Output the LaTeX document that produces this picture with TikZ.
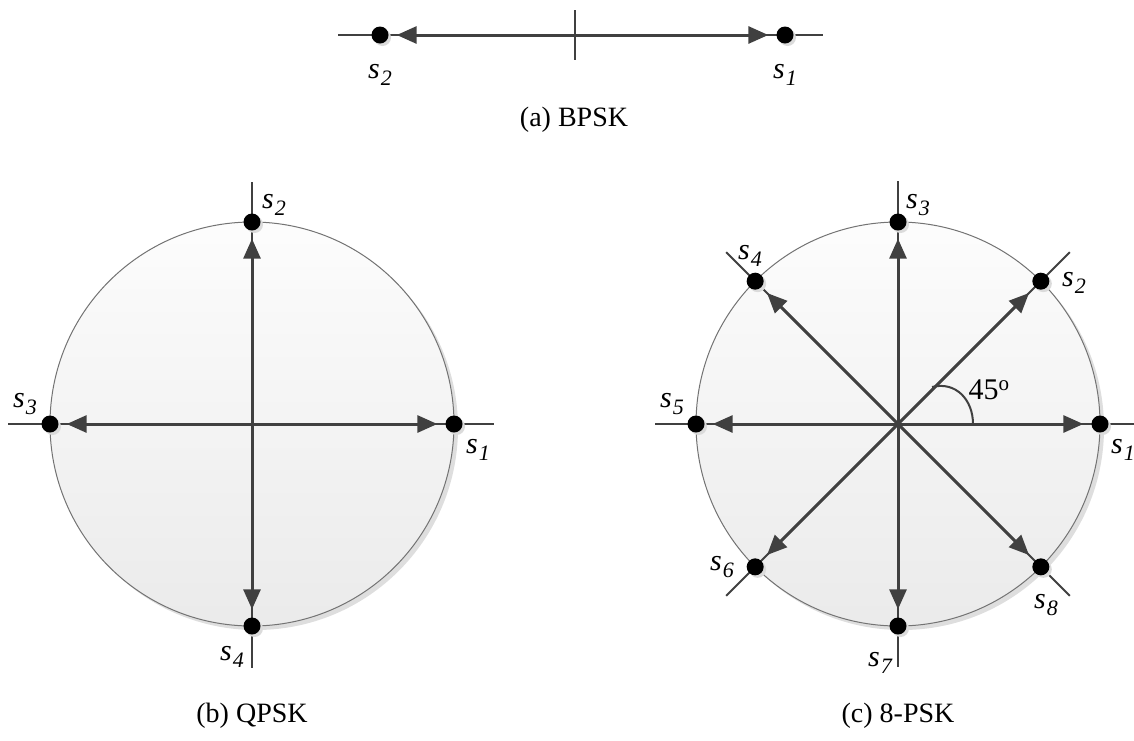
\documentclass[tikz,border=0pt]{standalone}
\usepackage{fontspec}
\setmainfont{Liberation Serif}
\usetikzlibrary{arrows.meta,shadows,calc}
\definecolor{arr}{HTML}{404040}
\tikzset{
  ax/.style={draw=arr, line width=2},
  vec/.style={draw=arr, line width=3, -{Triangle[length=20,width=17]}, shorten >=8},
  dot/.style={circle, fill=black, inner sep=0, minimum size=17, drop shadow={shadow xshift=2.5, shadow yshift=2.5, fill=black!14, opacity=1}},
  disk/.style={draw=black!55, line width=1, top color=black!1, bottom color=black!8, drop shadow={shadow xshift=4, shadow yshift=4, fill=black!13, opacity=1}},
  lab/.style={font=\fontsize{30}{34}\selectfont\itshape, inner sep=0},
  captxt/.style={font=\fontsize{28}{32}\selectfont, inner sep=0},
}
\newcommand{\slab}[1]{s\kern1pt\raisebox{-7pt}{\fontsize{22}{24}\selectfont\itshape #1}}
\begin{document}
\begin{tikzpicture}[x=1pt,y=-1pt]
\useasboundingbox (0,0) rectangle (1134,740);
% ---- BPSK
\coordinate (ao) at (575,35);
\draw[ax] (338,35) -- (823,35);
\draw[ax] (575,10) -- (575,60);
\node[dot] (a1) at (785,35) {};
\node[dot] (a2) at (380,35) {};
\draw[vec] (ao) -- (a1);
\draw[vec] (ao) -- (a2);
\node[lab] at (380,75) {\slab{2}};
\node[lab] at (785,75) {\slab{1}};
\node[captxt] at (574,120) {(a) BPSK};
% ---- QPSK
\coordinate (bo) at (252,424);
\path[disk] (bo) circle (202);
\draw[ax] (252,182) -- (252,668);
\draw[ax] (8,424) -- (494,424);
\node[dot] (b1) at (454,424) {};
\node[dot] (b2) at (252,222) {};
\node[dot] (b3) at (50,424) {};
\node[dot] (b4) at (252,626) {};
\foreach \i in {1,...,4} \draw[vec] (bo) -- (b\i);
\node[lab] at (274,205) {\slab{2}};
\node[lab] at (25,404) {\slab{3}};
\node[lab] at (478,450) {\slab{1}};
\node[lab] at (232,657) {\slab{4}};
\node[captxt] at (252,716) {(b) QPSK};
% ---- 8-PSK
\coordinate (co) at (898,424);
\path[disk] (co) circle (202);
\foreach \a in {0,45,90,135} \draw[ax] ($(co)+(-\a:243)$) -- ($(co)+(180-\a:243)$);
\foreach \i/\a in {1/0,2/45,3/90,4/135,5/180,6/225,7/270,8/315}
  \node[dot] (c\i) at ($(co)+(-\a:202)$) {};
\foreach \i in {1,...,8} \draw[vec] (co) -- (c\i);
\coordinate (arcA) at (932,387);
\coordinate (arcB) at (973,424);
\draw[ax] (arcA) .. controls (956,381) and (973,400) .. (arcB);
\node[captxt, font=\fontsize{30}{34}\selectfont] (ang) at (989,390) {45\textsuperscript{o}};
\node[lab] at (918,205) {\slab{3}};
\node[lab] at (1074,283) {\slab{2}};
\node[lab] at (750,256) {\slab{4}};
\node[lab] at (672,404) {\slab{5}};
\node[lab] at (1123,450) {\slab{1}};
\node[lab] at (722,567) {\slab{6}};
\node[lab] at (880,663) {\slab{7}};
\node[lab] at (1046,605) {\slab{8}};
\node[captxt] at (898,716) {(c) 8-PSK};
\end{tikzpicture}
\end{document}
